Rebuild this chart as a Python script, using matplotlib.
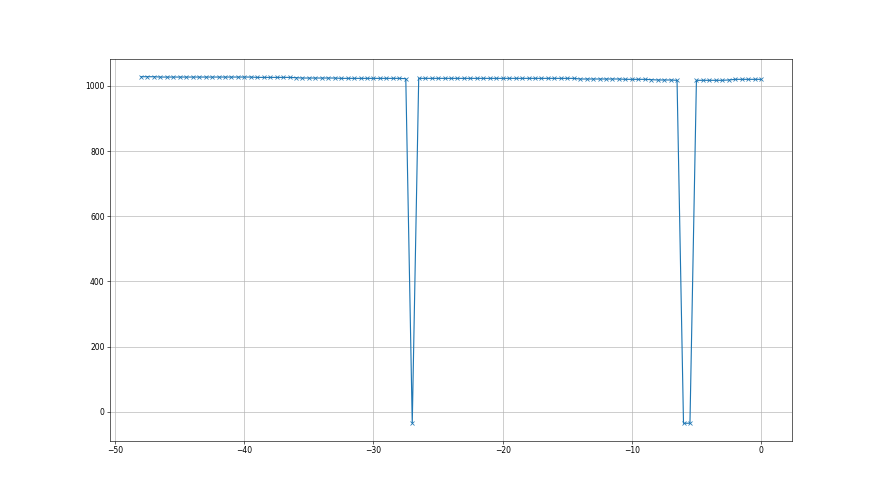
import numpy as np
import matplotlib.pyplot as plt

# x positions: -48 .. 0 in steps of 0.5
t = np.arange(-48, 0.25, 0.5)

values = [
    1028, 1028, 1028, 1027, 1027, 1027, 1027, 1027, 1027, 1027,
    1027, 1027, 1027, 1027, 1027, 1027, 1027, 1027, 1026, 1026,
    1026, 1026, 1026, 1026, 1025, 1024, 1024, 1024, 1024, 1024,
    1024, 1023, 1023, 1023, 1023, 1023, 1023, 1023, 1023, 1023,
    1023, 1022, -35, 1023, 1023, 1023, 1023, 1023, 1023, 1023,
    1023, 1023, 1023, 1023, 1023, 1023, 1023, 1023, 1023, 1023,
    1023, 1023, 1023, 1023, 1023, 1023, 1023, 1023, 1021, 1021,
    1021, 1021, 1021, 1021, 1021, 1020, 1020, 1020, 1020, 1019,
    1018, 1018, 1018, 1017, -35, -35, 1017, 1017, 1017, 1017,
    1017, 1018, 1020, 1020, 1020, 1020, 1020,
]

fig = plt.figure(figsize=(16, 9))
ax = fig.add_subplot(1, 1, 1)
ax.plot(t, values, marker="x")
ax.grid(True)

fig.savefig("out.png", dpi=55)
